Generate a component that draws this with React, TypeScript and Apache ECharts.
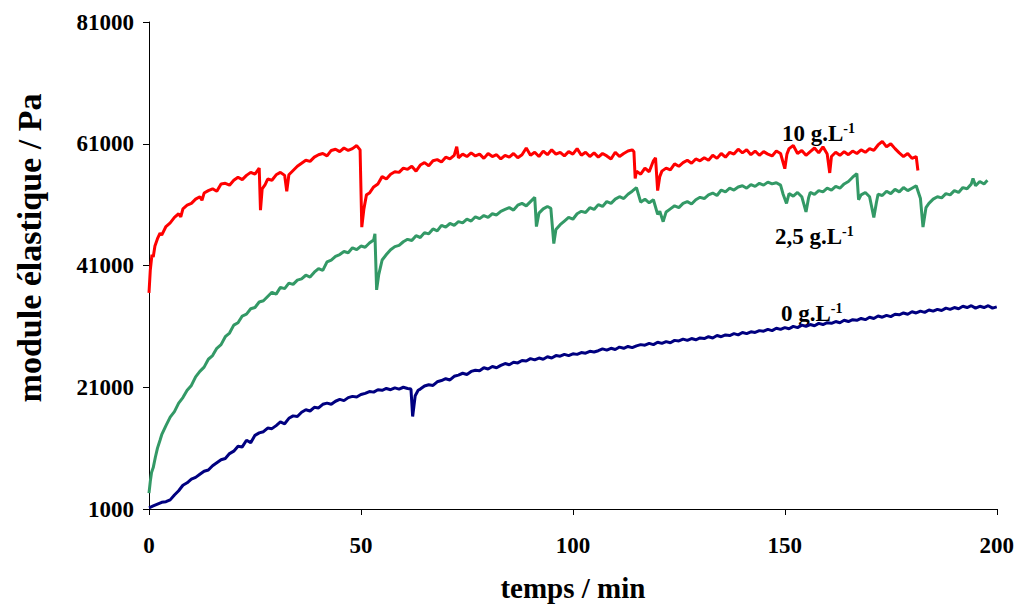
import React, { useEffect, useRef } from "react";
import * as echarts from "echarts";

const xTicks = [0, 50, 100, 150, 200];
const yTicks = [1000, 21000, 41000, 61000, 81000];

const seriesNames = ["10 g.L-1", "2,5 g.L-1", "0 g.L-1"];
const xTitle = "temps / min";
const yTitle = "module élastique / Pa";

const red10: [number, number][] = [
  [0, 36500], [0.3, 40200], [0.7, 42800], [1, 42400], [1.4, 44200], [2, 45400], [2.6, 46300], [3, 46000], [4, 47400], [5, 48000],
  [6, 48900], [7, 49500], [7.5, 49000], [8, 50300], [9, 50900], [10, 51200], [11, 51900], [12, 52300], [12.5, 51700], [13, 52900],
  [14, 53300], [15, 53600], [16, 53200], [17, 54400], [18, 54500], [19, 54200], [20, 55000], [21, 55500], [22, 55100], [23, 55800],
  [24, 56300], [25, 56000], [26, 57000], [26.3, 50100], [26.7, 53600], [27.4, 54300], [28, 55200], [29, 55000], [30, 55900], [31, 56300],
  [32, 55800], [32.5, 53200], [33, 55900], [34, 56600], [35, 57300], [36, 57800], [37, 58300], [38, 58100], [39, 58800], [40, 59200],
  [41, 59400], [42, 59000], [43, 59900], [44, 60100], [45, 59700], [46, 60300], [47, 59900], [48, 60200], [49, 60700], [49.8, 60000],
  [50.2, 47300], [50.7, 50300], [51.3, 52600], [52, 52900], [53, 53900], [54, 54400], [55, 55600], [56, 55200], [57, 56000], [58, 56400],
  [59, 56300], [60, 57000], [61, 56800], [62, 57300], [63, 56500], [64, 57500], [65, 57900], [66, 57400], [67, 58200], [68, 58400],
  [69, 58000], [70, 58800], [71, 58500], [72, 59100], [72.6, 60500], [73, 58700], [74, 59300], [75, 58900], [76, 59500], [77, 59000],
  [78, 59300], [79, 58600], [80, 59400], [81, 58900], [82, 59200], [83, 58500], [84, 59100], [85, 58800], [86, 59400], [87, 58700],
  [88, 59200], [89, 60300], [90, 59100], [91, 59600], [92, 58900], [93, 59800], [94, 59200], [95, 60000], [96, 59300], [97, 59600],
  [98, 59000], [99, 59700], [100, 59300], [101, 60200], [102, 59100], [103, 59600], [104, 58900], [105, 59500], [106, 58800], [107, 59400],
  [108, 59000], [109, 58500], [110, 59600], [111, 58900], [112, 59400], [113, 59800], [114, 60000], [114.4, 59700], [114.7, 55300], [115, 56500],
  [116, 56000], [117, 57000], [118, 56400], [119, 58200], [119.5, 58700], [120, 53300], [120.5, 55600], [121, 56500], [122, 57000], [123, 56700],
  [124, 57700], [125, 57300], [126, 57900], [127, 58300], [128, 57800], [129, 58500], [130, 58200], [131, 58700], [132, 58300], [133, 59100],
  [134, 58600], [135, 59400], [136, 58800], [137, 59600], [138, 59300], [139, 60100], [140, 59500], [141, 60000], [142, 59200], [143, 59800],
  [144, 59100], [145, 59700], [146, 59300], [147, 59000], [148, 59800], [149, 59400], [150, 56900], [150.5, 59300], [151, 60200], [152, 60700],
  [153, 59400], [154, 59900], [155, 59100], [156, 59700], [157, 60300], [158, 59500], [159, 60500], [160, 59300], [160.6, 56200], [161, 58900],
  [162, 59600], [163, 59100], [164, 59700], [165, 59200], [166, 59800], [167, 59400], [168, 60000], [169, 59600], [170, 60200], [171, 59900],
  [172, 60800], [173, 61400], [174, 60500], [175, 61000], [176, 60200], [177, 59500], [178, 58900], [179, 59400], [180, 58600], [181, 58900],
  [181.4, 56600],
];

const green25: [number, number][] = [
  [0, 3600], [0.3, 5500], [0.6, 7000], [1, 7800], [1.5, 9500], [2, 11000], [2.6, 12300], [3, 13200], [4, 14700], [5, 16100],
  [6, 17000], [7, 18400], [8, 19300], [9, 20500], [10, 21300], [11, 22700], [12, 23600], [13, 24300], [14, 25600], [15, 26200],
  [16, 27400], [17, 28000], [18, 29300], [19, 29900], [20, 31200], [21, 31600], [22, 32700], [23, 33000], [24, 33900], [25, 34100],
  [26, 35000], [27, 35200], [28, 35900], [29, 36600], [30, 36300], [31, 37400], [32, 37200], [33, 38100], [34, 37900], [35, 38600],
  [36, 38800], [37, 39400], [38, 39100], [39, 39900], [40, 40500], [41, 40200], [42, 41600], [43, 41900], [44, 42500], [45, 42800],
  [46, 43300], [47, 43100], [48, 43900], [49, 43600], [50, 44200], [51, 44000], [52, 44700], [53, 45200], [53.3, 46200], [53.7, 37000],
  [54.2, 39500], [55, 41900], [56, 42800], [57, 43600], [58, 44100], [59, 44300], [60, 44900], [61, 45300], [62, 45100], [63, 45900],
  [64, 45600], [65, 46400], [66, 46200], [67, 47000], [68, 46700], [69, 47600], [70, 47300], [71, 47900], [72, 47600], [73, 48200],
  [74, 48000], [75, 48600], [76, 48300], [77, 49000], [78, 48700], [79, 49200], [80, 48900], [81, 49500], [82, 49300], [83, 49900],
  [84, 50200], [85, 50500], [86, 50100], [87, 50900], [88, 51200], [89, 50800], [90, 51500], [91, 52200], [91.4, 47400], [92, 49600],
  [93, 50300], [94, 50700], [94.8, 50400], [95.5, 44600], [96, 46900], [97, 47700], [98, 48300], [99, 48900], [100, 48600], [101, 49500],
  [102, 49900], [103, 49700], [104, 50500], [105, 50200], [106, 51000], [107, 50700], [108, 51500], [109, 51200], [110, 51900], [111, 52300],
  [112, 52000], [113, 52700], [114, 53200], [115, 53800], [115.5, 52600], [116, 51400], [117, 51900], [118, 51300], [119, 51800], [120, 49400],
  [120.5, 49900], [121.3, 48200], [122, 49800], [123, 50300], [124, 50800], [125, 50500], [126, 51200], [127, 51500], [128, 51100], [129, 51800],
  [130, 52200], [131, 52000], [132, 52600], [133, 52900], [134, 52500], [135, 53400], [136, 53100], [137, 53700], [138, 53400], [139, 53900],
  [140, 54100], [141, 53700], [142, 54300], [143, 54000], [144, 54500], [145, 54200], [146, 54700], [147, 54400], [148, 54600], [149, 54200],
  [149.6, 52700], [150.4, 51200], [151, 52800], [152, 52400], [153, 53000], [154, 52300], [155, 49800], [155.6, 52100], [156, 53000], [157, 52700],
  [158, 53300], [159, 53100], [160, 53700], [161, 53400], [162, 54000], [163, 53700], [164, 54400], [165, 54800], [166, 55500], [167, 56100],
  [167.4, 51800], [168, 52600], [169, 53000], [170, 52300], [171, 48900], [171.6, 51300], [172, 52700], [173, 52500], [174, 53200], [175, 52800],
  [176, 53500], [177, 53100], [178, 53800], [179, 53300], [180, 53700], [181, 54100], [182, 52000], [182.6, 47300], [183.3, 50500], [184, 51200],
  [185, 51900], [186, 52300], [187, 52100], [188, 52800], [189, 52600], [190, 53300], [191, 53000], [192, 53800], [193, 53600], [194, 54400],
  [194.4, 55300], [195, 54100], [196, 54800], [197, 54400], [197.8, 55000],
];

const navy0: [number, number][] = [
  [0, 1200], [1, 1500], [2, 1800], [3, 2100], [4, 2200], [5, 2500], [6, 3300], [7, 4000], [8, 4900], [9, 5300],
  [10, 5900], [11, 6200], [12, 6700], [13, 7200], [14, 7400], [15, 8100], [16, 8600], [17, 9100], [18, 9300], [19, 10100],
  [20, 10500], [21, 11300], [22, 11200], [23, 12300], [24, 11900], [25, 13100], [26, 13500], [27, 13700], [28, 14300], [29, 14200],
  [30, 14700], [31, 15300], [32, 15000], [33, 15900], [34, 16300], [35, 16200], [36, 16900], [37, 17300], [38, 17100], [39, 17700],
  [40, 17600], [41, 18200], [42, 18400], [43, 18200], [44, 18700], [45, 19000], [46, 18800], [47, 19300], [48, 19500], [49, 19400],
  [50, 19800], [51, 20000], [52, 20300], [53, 20200], [54, 20600], [55, 20500], [56, 20800], [57, 20600], [58, 20900], [59, 20700],
  [60, 21000], [61, 20800], [61.8, 20700], [62.2, 16200], [62.8, 19600], [63.5, 20500], [64, 20700], [65, 21200], [66, 21400], [67, 21300],
  [68, 21900], [69, 22100], [70, 22400], [71, 22200], [72, 22800], [73, 23000], [74, 23300], [75, 23100], [76, 23600], [77, 23800],
  [78, 23700], [79, 24200], [80, 24000], [81, 24400], [82, 24200], [83, 24600], [84, 24900], [85, 24700], [86, 25100], [87, 25000],
  [88, 25400], [89, 25300], [90, 25700], [91, 25500], [92, 25800], [93, 25600], [94, 26000], [95, 25800], [96, 26200], [97, 26100],
  [98, 26400], [99, 26200], [100, 26500], [101, 26400], [102, 26700], [103, 26600], [104, 26900], [105, 26800], [106, 27000], [107, 27300],
  [108, 27100], [109, 27400], [110, 27200], [111, 27600], [112, 27400], [113, 27700], [114, 27500], [115, 27800], [116, 28000], [117, 27900],
  [118, 28200], [119, 28000], [120, 28400], [121, 28200], [122, 28500], [123, 28300], [124, 28700], [125, 28600], [126, 28900], [127, 28700],
  [128, 29000], [129, 28800], [130, 29100], [131, 29000], [132, 29300], [133, 29100], [134, 29500], [135, 29300], [136, 29600], [137, 29500],
  [138, 29800], [139, 29600], [140, 30000], [141, 29800], [142, 30100], [143, 30000], [144, 30300], [145, 30200], [146, 30500], [147, 30300],
  [148, 30700], [149, 30500], [150, 30800], [151, 30600], [152, 31000], [153, 30800], [154, 31200], [155, 31000], [156, 31300], [157, 31100],
  [158, 31500], [159, 31300], [160, 31600], [161, 31500], [162, 31800], [163, 31600], [164, 32000], [165, 31800], [166, 32100], [167, 32000],
  [168, 32300], [169, 32100], [170, 32500], [171, 32300], [172, 32700], [173, 32500], [174, 32800], [175, 32600], [176, 33000], [177, 32900],
  [178, 33200], [179, 33000], [180, 33400], [181, 33200], [182, 33500], [183, 33300], [184, 33700], [185, 33500], [186, 33800], [187, 33600],
  [188, 34000], [189, 33800], [190, 34100], [191, 33900], [192, 34300], [193, 34100], [194, 34400], [195, 34000], [196, 34300], [197, 34100],
  [198, 34400], [199, 34000], [200, 34200],
];

const FONT = "'Liberation Serif', 'Times New Roman', serif";

export default function App() {
  const ref = useRef<HTMLDivElement>(null);
  useEffect(() => {
    if (!ref.current) return;
    const chart = echarts.init(ref.current, undefined, { renderer: "svg" });
    const labelStyle = (text: string, x: number, y: number) => ({
      type: "text",
      x,
      y,
      silent: true,
      style: {
        text,
        fill: "#000",
        fontFamily: FONT,
        fontWeight: "bold",
        fontSize: 23,
        textVerticalAlign: "middle",
        rich: {
          s: { fontSize: 14, fontWeight: "bold", fontFamily: FONT, verticalAlign: "top", fill: "#000" },
        },
      },
    });
    chart.setOption({
      animation: false,
      backgroundColor: "#fff",
      grid: { left: 149, top: 22, width: 848, height: 502, containLabel: false },
      xAxis: {
        type: "value",
        min: xTicks[0],
        max: xTicks[xTicks.length - 1],
        interval: 50,
        name: xTitle,
        nameLocation: "middle",
        nameGap: 64,
        nameTextStyle: { fontFamily: FONT, fontWeight: "bold", fontSize: 29, color: "#000" },
        axisLine: { onZero: false, lineStyle: { color: "#000", width: 1 } },
        axisTick: { show: true, inside: false, length: 6, lineStyle: { color: "#000" } },
        axisLabel: { fontFamily: FONT, fontWeight: "bold", fontSize: 23, color: "#000", margin: 25 },
        splitLine: { show: false },
      },
      yAxis: {
        type: "value",
        min: yTicks[0],
        max: yTicks[yTicks.length - 1],
        interval: 20000,
        axisLine: { show: true, lineStyle: { color: "#000", width: 1 } },
        axisTick: { show: true, inside: false, length: 6, lineStyle: { color: "#000" } },
        axisLabel: {
          fontFamily: FONT, fontWeight: "bold", fontSize: 23, color: "#000", margin: 15,
          formatter: (v: number) => String(v),
        },
        splitLine: { show: false },
      },
      series: [
        { name: seriesNames[0], type: "line", data: red10, showSymbol: false, lineStyle: { color: "#FF0000", width: 3 }, itemStyle: { color: "#FF0000" } },
        { name: seriesNames[1], type: "line", data: green25, showSymbol: false, lineStyle: { color: "#339966", width: 3 }, itemStyle: { color: "#339966" } },
        { name: seriesNames[2], type: "line", data: navy0, showSymbol: false, lineStyle: { color: "#000080", width: 3 }, itemStyle: { color: "#000080" } },
      ],
      graphic: [
        labelStyle("10 g.L{s|-1}", 782, 133),
        labelStyle("2,5 g.L{s|-1}", 775, 236),
        labelStyle("0 g.L{s|-1}", 781, 313),
        {
          type: "text",
          x: 29,
          y: 248,
          rotation: Math.PI / 2,
          silent: true,
          style: {
            text: yTitle,
            fill: "#000",
            fontFamily: FONT,
            fontWeight: "bold",
            fontSize: 34,
            textAlign: "center",
            textVerticalAlign: "middle",
          },
        },
      ],
    });
    return () => chart.dispose();
  }, []);
  return (
    <div
      ref={ref}
      style={{ position: "fixed", left: 0, top: 0, width: 1017, height: 607, background: "#fff" }}
    />
  );
}
